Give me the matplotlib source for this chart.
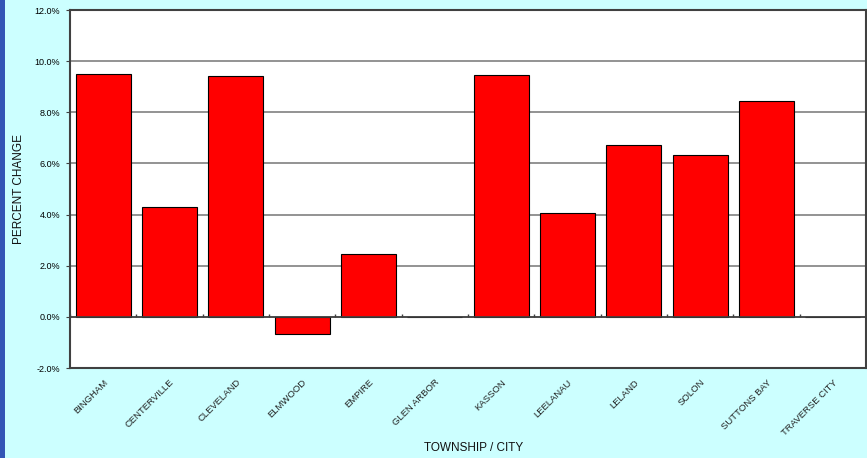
import matplotlib
matplotlib.use("Agg")
import matplotlib.pyplot as plt
import numpy as np
from matplotlib.ticker import FuncFormatter

categories = ["BINGHAM", "CENTERVILLE", "CLEVELAND", "ELMWOOD", "EMPIRE", "GLEN ARBOR",
              "KASSON", "LEELANAU", "LELAND", "SOLON", "SUTTONS BAY", "TRAVERSE CITY"]
values = [9.5, 4.3, 9.4, -0.66, 2.46, 0.0, 9.45, 4.06, 6.72, 6.33, 8.44, 0.0]
yticks = [-2, 0, 2, 4, 6, 8, 10, 12]

plt.rcParams['font.family'] = ['Liberation Sans', 'DejaVu Sans']

fig = plt.figure(figsize=(8.67, 4.58), dpi=100)
fig.patch.set_facecolor('#ccffff')
# blue strip at left edge
fig.add_artist(plt.Rectangle((0, 0), 4.5 / 867, 1, transform=fig.transFigure,
                             facecolor='#3355b5', edgecolor='none'))

ax = fig.add_axes([70 / 867, 90 / 458, 796 / 867, 358 / 458])
ax.set_facecolor('white')
x = np.arange(len(categories))
ax.set_xlim(-0.5, len(categories) - 0.5)
ax.set_ylim(-2, 12)
ax.set_yticks(yticks)
ax.yaxis.set_major_formatter(FuncFormatter(lambda v, p: f"{v:.1f}%"))
ax.grid(axis='y', color='#808080', linewidth=1.2, zorder=0)
ax.set_axisbelow(True)

ax.bar(x, values, width=0.83, color='#ff0000', edgecolor='black', linewidth=0.8, zorder=3)
ax.axhline(0, color='#404040', linewidth=1.2, zorder=4)
ax.vlines(np.arange(len(categories) + 1) - 0.5, 0, 0.12, color='#404040', linewidth=1, zorder=4)

ax.set_xticks(x)
ax.set_xticklabels(categories, rotation=45, ha='right', va='top', rotation_mode='anchor',
                   fontsize=6.8, color='#222222')
ax.tick_params(axis='x', length=0, pad=7)
ax.tick_params(axis='y', labelsize=6.5, length=3, direction='out', color='#404040', pad=4)

for s in ax.spines.values():
    s.set_color('#404040')
    s.set_linewidth(1.5)

fig.text(19 / 867, 1 - 189 / 458, "PERCENT CHANGE", rotation=90, ha='center', va='center',
         fontsize=8.5, color='#111111')
fig.text(474 / 867, 1 - 448 / 458, "TOWNSHIP / CITY", ha='center', va='center',
         fontsize=8.5, color='#111111')

fig.savefig("out.png", dpi=100, facecolor=fig.get_facecolor())
